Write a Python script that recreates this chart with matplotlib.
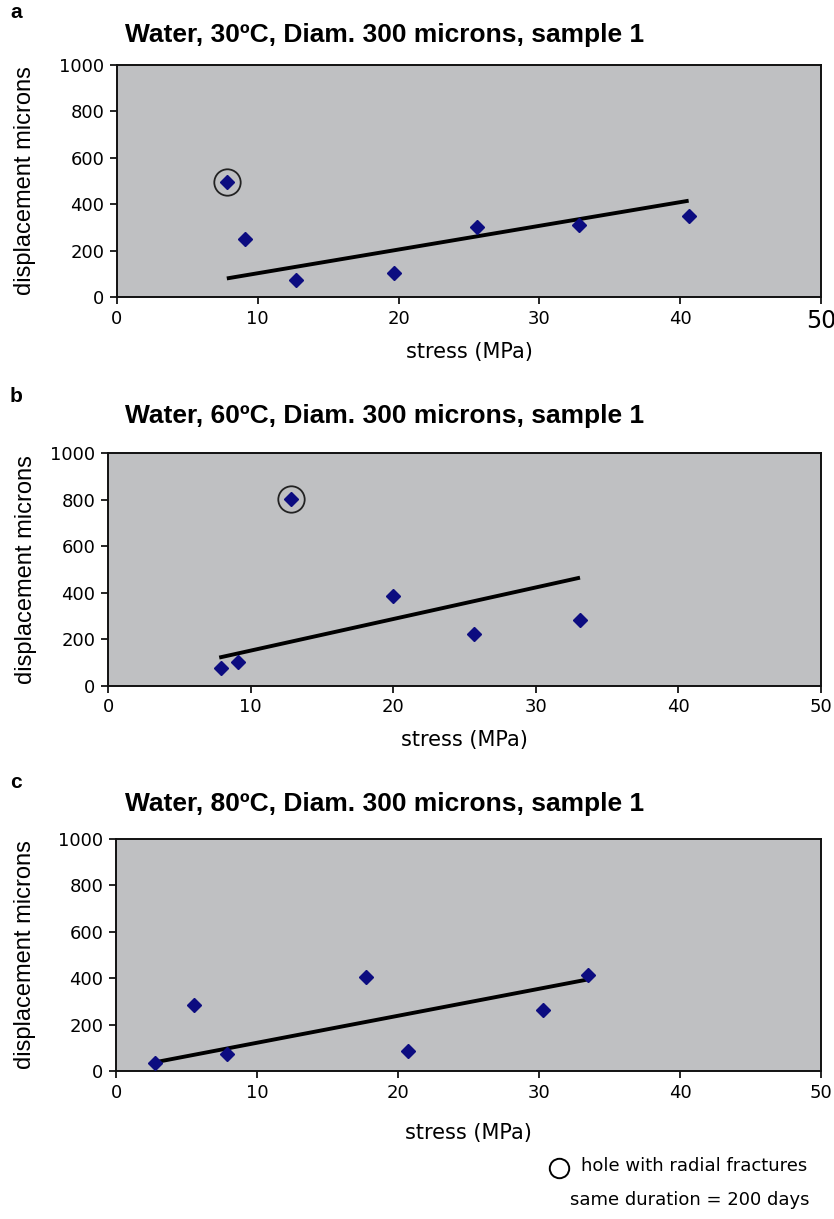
import matplotlib
matplotlib.use("Agg")
import matplotlib.pyplot as plt
from matplotlib.lines import Line2D

W, H = 834, 1219

# panel a - 30 C
stress_a = [7.8, 9.1, 12.7, 19.7, 25.6, 32.8, 40.6]
disp_a = [495, 250, 75, 105, 300, 310, 350]
circled_a = [0]
trend_a_x = [7.8, 40.6]
trend_a_y = [80, 415]

# panel b - 60 C
stress_b = [7.9, 9.1, 12.8, 20.0, 25.7, 33.1]
disp_b = [77, 105, 802, 385, 225, 285]
circled_b = [2]
trend_b_x = [7.8, 33.1]
trend_b_y = [122, 465]

# panel c - 80 C
stress_c = [2.8, 5.5, 7.9, 17.7, 20.7, 30.3, 33.5]
disp_c = [35, 285, 75, 405, 85, 265, 415]
circled_c = []
trend_c_x = [2.8, 33.5]
trend_c_y = [38, 395]

titles = ["Water, 30\u00baC, Diam. 300 microns, sample 1",
          "Water, 60\u00baC, Diam. 300 microns, sample 1",
          "Water, 80\u00baC, Diam. 300 microns, sample 1"]
panel_letters = ["a", "b", "c"]
x_ticks = [0, 10, 20, 30, 40, 50]
y_ticks = [0, 200, 400, 600, 800, 1000]

BG = "#bfc0c2"
NAVY = "#0c0c80"

fig = plt.figure(figsize=(W / 100, H / 100), dpi=100)


def px_axes(left, top, right, bottom):
    return fig.add_axes([left / W, 1 - bottom / H, (right - left) / W, (bottom - top) / H])


# pixel boxes: left, top, right, bottom
boxes = [(117, 65, 821, 297), (108, 453, 821, 686), (116, 839, 821, 1071)]
title_y = [35, 416, 804]
letter_y = [13, 396, 783]
xlabel_y = [352, 740, 1133]
ylabel_right = [36, 37, 36]  # right edge of the rotated y label, px

panels = [
    (stress_a, disp_a, circled_a, trend_a_x, trend_a_y),
    (stress_b, disp_b, circled_b, trend_b_x, trend_b_y),
    (stress_c, disp_c, circled_c, trend_c_x, trend_c_y),
]

for i, (xs, ys, circ, tx, ty) in enumerate(panels):
    left, top, right, bottom = boxes[i]
    ax = px_axes(left, top, right, bottom)
    ax.set_facecolor(BG)
    ax.plot(tx, ty, color="black", lw=2.8, solid_capstyle="butt", zorder=2)
    ax.plot(xs, ys, linestyle="none", marker="D", ms=7.5, color=NAVY,
            markeredgecolor=NAVY, zorder=3)
    for k in circ:
        ax.plot(xs[k], ys[k], linestyle="none", marker="o", ms=19,
                markerfacecolor="none", markeredgecolor="#222222",
                markeredgewidth=1.3, zorder=4)
    ax.set_xlim(0, 50)
    ax.set_ylim(0, 1000)
    ax.set_xticks(x_ticks)
    ax.set_yticks(y_ticks)
    ax.tick_params(direction="out", length=5, width=1.2, labelsize=13, pad=4)
    for s in ax.spines.values():
        s.set_linewidth(1.4)
        s.set_color("#111111")
    ax.set_ylabel("displacement microns", fontsize=17, family="Liberation Sans")
    ax.yaxis.set_label_coords((ylabel_right[i] - left) / (right - left), 0.5)
    if i == 0:
        # the last tick label is printed larger in the original figure
        ax.get_xticklabels()[-1].set_fontsize(17)

    fig.text(125 / W, 1 - title_y[i] / H, titles[i], fontsize=19, fontweight="bold",
             family="Liberation Sans", ha="left", va="center")
    fig.text(10 / W, 1 - letter_y[i] / H, panel_letters[i], fontsize=15,
             fontweight="bold", family="Liberation Sans", ha="left", va="center")
    fig.text(((left + right) / 2) / W, 1 - xlabel_y[i] / H,
             "stress (MPa)", fontsize=15, ha="center", va="center")

# legend notes at bottom
fig.add_artist(Line2D([559 / W], [1 - 1168 / H], marker="o", ms=14,
                      markerfacecolor="none", markeredgecolor="black",
                      markeredgewidth=1.4, transform=fig.transFigure))
fig.text(581 / W, 1 - 1166 / H, "hole with radial fractures", fontsize=13,
         ha="left", va="center")
fig.text(570 / W, 1 - 1200 / H, "same duration = 200 days", fontsize=13,
         ha="left", va="center")

fig.savefig("out.png", dpi=100)
